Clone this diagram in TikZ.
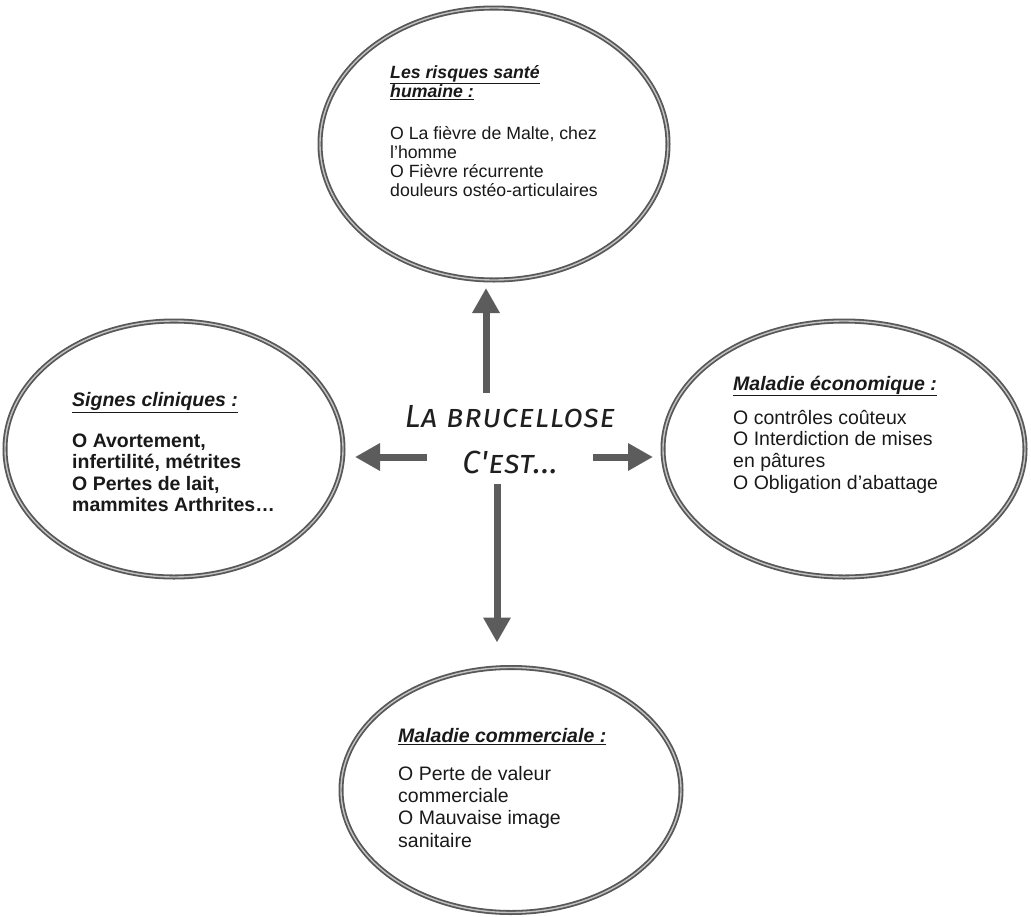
\documentclass[tikz,border=0pt]{standalone}
\usepackage{fontspec}
\setmainfont{Liberation Sans}
\newfontfamily\handfont{Fira Sans}[Letters=SmallCaps, LetterSpace=2]
\usetikzlibrary{shapes.geometric,arrows.meta}
\definecolor{ringc}{RGB}{88,88,88}
\definecolor{ringin}{RGB}{195,195,195}
\definecolor{arrc}{RGB}{92,92,92}
\definecolor{txtc}{RGB}{25,25,25}
\tikzset{
  ring/.style={ellipse, draw=ringc, double=ringin, line width=1.8pt, double distance=1.4pt, inner sep=0pt, outer sep=0pt},
  bigarrow/.style={draw=arrc, line width=7pt, -{Triangle[width=26pt,length=25pt]}},
  txt/.style={anchor=north west, inner sep=0pt, align=left, text=txtc},
}
\newcommand{\ttl}[1]{\underline{\textbf{\textit{#1}}}}
\begin{document}
\begin{tikzpicture}[x=1pt,y=-1pt]
\useasboundingbox (0,0) rectangle (1031,916);
\fill[white] (0,0) rectangle (1031,916);
% ellipses
\node[ring, minimum width=348pt, minimum height=272pt] (top) at (494,144) {};
\node[ring, minimum width=338pt, minimum height=256pt] (left) at (174,449) {};
\node[ring, minimum width=362pt, minimum height=256pt] (right) at (844,449) {};
\node[ring, minimum width=340pt, minimum height=245pt] (bot) at (511,790) {};
% texts
\node[txt, font=\fontsize{17.7}{19}\selectfont] (ttop) at (390,65.1)
  {\strut\ttl{Les risques santé}\\ \ttl{humaine :}\\[23pt] O La fièvre de Malte, chez\\ l'homme\\ O Fièvre récurrente\\ douleurs ostéo-articulaires};
\node[txt, font=\bfseries\fontsize{19.5}{21.5}\selectfont] (tleft) at (72,391)
  {\strut\ttl{Signes cliniques :}\\[19.5pt] O Avortement,\\ infertilité, métrites\\ O Pertes de lait,\\ mammites Arthrites…};
\node[txt, font=\fontsize{19.5}{21.7}\selectfont] (tright) at (733,374.8)
  {\strut\ttl{Maladie économique :}\\[12.3pt] O contrôles coûteux\\ O Interdiction de mises\\ en pâtures\\ O Obligation d'abattage};
\node[txt, font=\fontsize{19.5}{22.3}\selectfont] (tbot) at (398,726.4)
  {\strut\ttl{Maladie commerciale :}\\[15.7pt] O Perte de valeur\\ commerciale\\ O Mauvaise image\\ sanitaire};
% hub text
\node[inner sep=0pt, anchor=north, align=center, text=black!88, font=\handfont\itshape\fontsize{32}{46}\selectfont] (hub) at (510,394.8)
  {\strut La brucellose\\ C'est...};
% arrows
\coordinate (tU) at (486,393);
\coordinate (tD) at (497,484);
\coordinate (tL) at (427,457);
\coordinate (tR) at (593,457);
\draw[bigarrow, shorten >=8pt] (tU) -- (tU |- top.south);
\draw[bigarrow, shorten >=25pt] (tD) -- (tD |- bot.north);
\draw[bigarrow, shorten >=12pt] (tL) -- (tL -| left.east);
\draw[bigarrow, shorten >=10pt] (tR) -- (tR -| right.west);
\end{tikzpicture}
\end{document}
